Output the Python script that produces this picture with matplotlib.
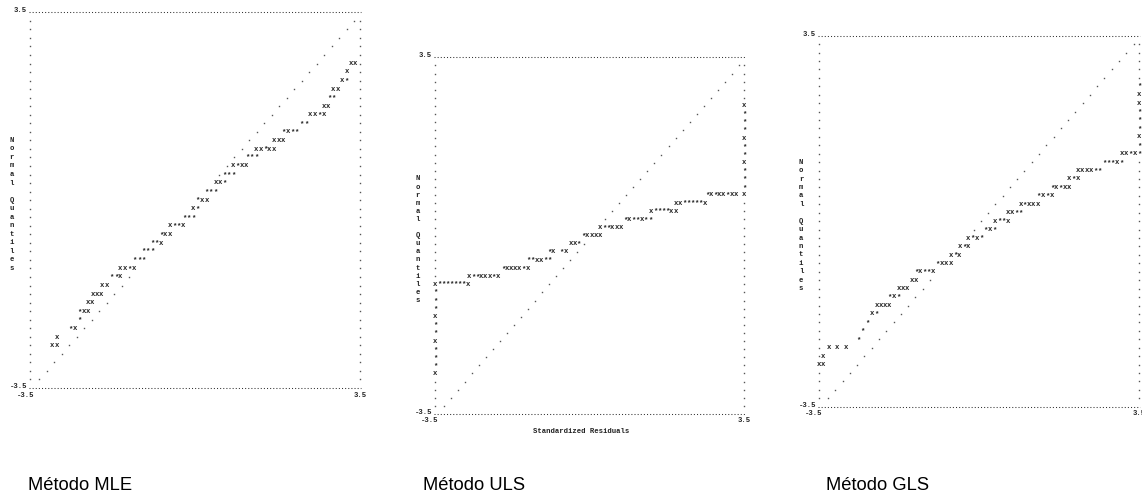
import numpy as np
import matplotlib.pyplot as plt

# LISREL style Q-plots (normal quantiles vs standardized residuals), three estimation methods
# rows of the text plot: normal quantile of each row that holds residuals
quantiles = [2.55, 2.39, 2.23, 2.07, 1.91, 1.75, 1.59, 1.43, 1.27, 1.11, 0.95, 0.80,
             0.64, 0.48, 0.32, 0.16, 0.00, -0.16, -0.32, -0.48, -0.64, -0.80, -0.95,
             -1.11, -1.27, -1.43, -1.59, -1.75, -1.91, -2.07, -2.23, -2.39, -2.55, -2.70]

# standardized residual where each row of marks starts, and the marks (x = one, * = several)
mle_resid = [3.31, 3.22, 3.12, 2.93, 2.85, 2.73, 2.45, 2.26, 1.88, 1.68, 1.30, 1.11,
             0.81, 0.62, 0.44, 0.24, 0.06, -0.05, -0.23, -0.53, -0.72, -0.91, -1.10,
             -1.28, -1.58, -1.77, -1.97, -2.17, -2.27, -2.45, -2.45, -2.64, -2.93, -3.03]
mle_marks = ['xx', 'x', 'x*', 'xx', '**', 'xx', 'xx*x', '**', '*x**', 'xxx', 'xx*xx', '***',
             'x*xx', '***', 'xx*', '***', '*xx', 'x*', '***', 'x**x', '*xx', '**x', '***',
             '***', 'xx*x', '**x', 'xx', 'xxx', 'xx', '*xx', '*', '*x', 'x', 'xx']

uls_resid = [3.50, 3.50, 3.50, 3.50, 3.50, 3.50, 3.50, 3.50, 3.50, 3.50, 3.50, 2.66,
             1.96, 1.39, 0.81, 0.24, -0.14, -0.43, -0.91, -1.38, -1.96, -2.73, -3.50,
             -3.50, -3.50, -3.50, -3.50, -3.50, -3.50, -3.50, -3.50, -3.50, -3.50, -3.50]
uls_marks = ['x', '*', '*', '*', 'x', '*', '*', 'x', '*', '*', '*', '*x*xx*xx x',
             'xx*****x', 'x****xx', '*x**x**', 'x**xxx', '*xxxx', 'xx*', '*x *x', '**xx**',
             '*xxxx*x', 'x**xxx*x', 'x*******x',
             '*', '*', '*', 'x', '*', '*', 'x', '*', '*', '*', 'x']

gls_resid = [3.50, 3.50, 3.50, 3.50, 3.50, 3.50, 3.50, 3.50, 3.13, 2.74, 2.17, 1.98,
             1.60, 1.31, 0.91, 0.63, 0.35, 0.15, -0.23, -0.42, -0.62, -0.90, -1.38,
             -1.47, -1.76, -1.95, -2.24, -2.34, -2.45, -2.54, -2.63, -3.29, -3.41, -3.50]
gls_marks = ['*', 'x', 'x', '*', '*', '*', 'x', '*', 'xx*x*', '***x*', 'xxxx**', 'x*x',
             '*x*xx', '*x*x', 'x*xxx', 'xx**', 'x**x', '*x*', 'x*x*', 'x*x', 'x*x', '*xxx',
             '*x**x', 'xx', 'xxx', '*x*', 'xxxx', 'x*', '*', '*', '*', 'x x x', 'x', 'xx']

titles = ['Método MLE', 'Método ULS', 'Método GLS']

n_rows, n_cols = 44, 75          # text grid of the LISREL plot
cw = 7 / n_cols
rh = 7 / n_rows
mono = 'Liberation Mono'
fs = 5.2
ink = '#222222'
dot = '#555555'

W, H = 1142, 500
fig = plt.figure(figsize=(W / 100, H / 100), dpi=100)

# pixel boxes of the plotting grids: left, right, top, bottom
boxes = [(30, 360, 12.3, 388), (435, 744, 57.3, 414), (819, 1139, 35.7, 406.7)]
title_x = [28, 423, 826]
data = [(mle_resid, mle_marks), (uls_resid, uls_marks), (gls_resid, gls_marks)]


def draw_panel(ax, resid, marks, xlabel):
    ax.set_xlim(-3.5, 3.5)
    ax.set_ylim(-3.5, 3.5)
    ax.axis('off')
    taken = set()
    for q, r0, s in zip(quantiles, resid, marks):
        row = round((3.5 - q) / rh)
        for i, ch in enumerate(s):
            if ch == ' ':
                continue
            x = r0 + i * cw
            ax.text(x, q, ch, ha='center', va='center', fontsize=fs, family=mono,
                    weight='bold', color=ink, clip_on=False)
            taken.add((row, round((x + 3.5) / cw)))

    # side columns and y = x reference line, one dot per text row
    xs, ys = [], []
    for row in range(1, n_rows):
        y = 3.5 - row * rh
        if (row, 0) not in taken:
            xs.append(-3.5); ys.append(y)
        if (row, n_cols) not in taken:
            xs.append(3.5); ys.append(y)
        xd = y + 0.04
        cd = (xd + 3.5) / cw
        if not any(r == row and abs(c - cd) < 0.8 for r, c in taken):
            xs.append(xd); ys.append(y)
    ax.plot(xs, ys, ls='none', marker='s', ms=1.0, mew=0, color=dot, clip_on=False)

    # top and bottom dotted rules
    for y in (3.5, -3.5):
        ax.plot([-3.5 - 0.2 * cw, 3.5 + 0.3 * cw], [y, y], ls=(0, (1, 2)), lw=0.75,
                color='#333333', clip_on=False)

    lab = dict(fontsize=fs, family=mono, weight='bold', color=ink, clip_on=False)
    ax.text(-3.5 - 0.7 * cw, 3.5, '3.5', ha='right', va='baseline', **lab)
    ax.text(-3.5 - 0.7 * cw, -3.5, '-3.5', ha='right', va='baseline', **lab)
    ax.text(-3.5 + 0.9 * cw, -3.5 - rh, '-3.5', ha='right', va='baseline', **lab)
    ax.text(3.5, -3.5 - rh, '3.5', ha='center', va='baseline', **lab)

    # vertical axis title, one letter per row
    for k, ch in enumerate('Normal Quantiles'):
        if ch != ' ':
            ax.text(-3.5 - 4.2 * cw, 3.5 - (15 + k) * rh, ch, ha='center', va='center', **lab)
    if xlabel:
        ax.text(-0.2, 3.5 - 46.2 * rh, 'Standardized Residuals', ha='center', va='center', **lab)


for k, ((l, r, t, b), (resid, marks)) in enumerate(zip(boxes, data)):
    ax = fig.add_axes([l / W, 1 - b / H, (r - l) / W, (b - t) / H])
    draw_panel(ax, resid, marks, xlabel=(k == 1))
    fig.text(title_x[k] / W, 1 - 485 / H, titles[k], ha='left', va='center',
             fontsize=13.2, family='Liberation Sans', color='black')

fig.savefig('out.png', dpi=100)
